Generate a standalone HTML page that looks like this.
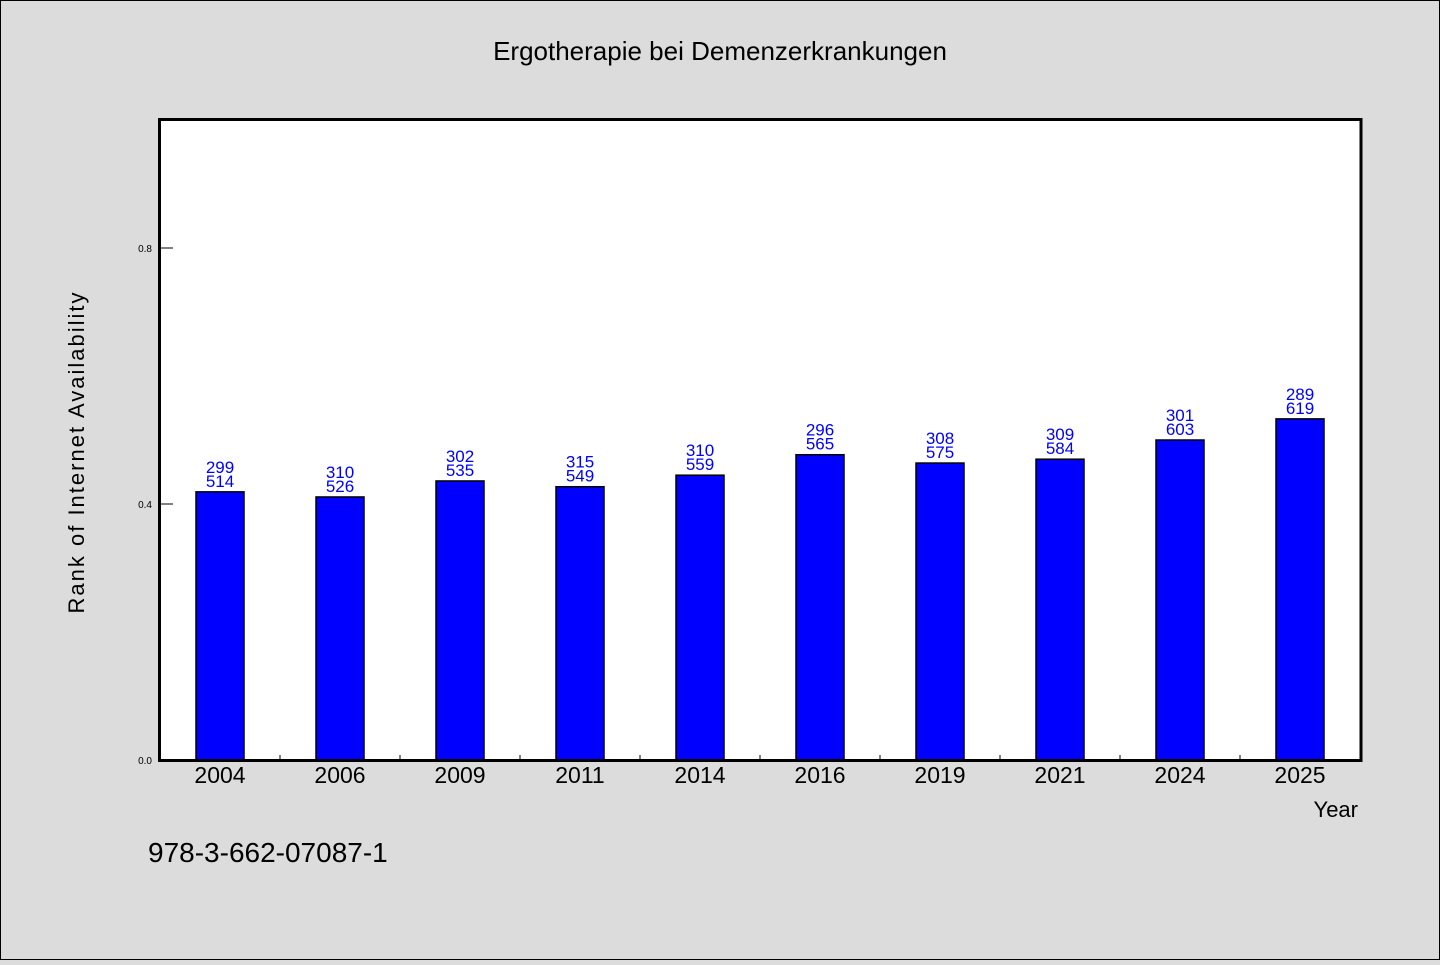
<!DOCTYPE html>
<html><head><meta charset="utf-8"><style>
html,body{margin:0;padding:0}
body{width:1440px;height:960px;background:#dcdcdc;overflow:hidden}
svg text{font-family:"WenQuanYi Zen Hei","Liberation Sans",sans-serif}
</style></head><body>
<svg id="chart" width="1440" height="960" xmlns="http://www.w3.org/2000/svg">
<rect x="0.5" y="0.5" width="1439" height="959" fill="#dcdcdc" stroke="#000" stroke-width="1"/>
<text x="720" y="60" font-size="26" text-anchor="middle" fill="#000">Ergotherapie bei Demenzerkrankungen</text>
<rect x="160" y="120" width="1200" height="640" fill="#fff"/>
<g id="bars"></g>
<g id="axes"></g>
<text transform="translate(84,452) rotate(-90)" font-size="22" text-anchor="middle" letter-spacing="2" fill="#000">Rank of Internet Availability</text>
<text x="1358" y="817" font-size="22" text-anchor="end" fill="#000">Year</text>
<text x="148" y="862" font-size="28" fill="#000">978-3-662-07087-1</text>
</svg>
<script>
const categories=["2004","2006","2009","2011","2014","2016","2019","2021","2024","2025"];
const values=[0.419,0.411,0.436,0.427,0.445,0.477,0.464,0.470,0.500,0.533];
const labelTop=["299","310","302","315","310","296","308","309","301","289"];
const labelBottom=["514","526","535","549","559","565","575","584","603","619"];
const yTicks=[0.0,0.4,0.8];
const yTickLabels=["0.0","0.4","0.8"];
const NS="http://www.w3.org/2000/svg";
const X0=160,W=1200,Y0=760,H=640,YMAX=1.0;
const band=W/categories.length;
function xScale(i){return X0+band*i+band/2;}
function yScale(v){return Y0-v/YMAX*H;}
function mk(tag,attrs,parent,text){const e=document.createElementNS(NS,tag);for(const k in attrs)e.setAttribute(k,attrs[k]);if(text!=null)e.textContent=text;parent.appendChild(e);return e;}
const bars=document.getElementById('bars');
const axes=document.getElementById('axes');
categories.forEach((c,i)=>{
 const cx=xScale(i),top=yScale(values[i]);
 const r=mk('rect',{x:cx-24,y:top,width:48,height:Y0-top,fill:'#0000ff',stroke:'#000','stroke-width':1.5},bars);
 
 
 const t1=mk('text',{x:cx,y:top-19,'font-size':17,'text-anchor':'middle',fill:'#0000ff'},bars,labelTop[i]);
 
 
 const t2=mk('text',{x:cx,y:top-5,'font-size':17,'text-anchor':'middle',fill:'#0000ff'},bars,labelBottom[i]);
 
 
 const xl=mk('text',{x:cx,y:783,'font-size':23,'text-anchor':'middle',fill:'#000'},axes,c);
 
 
 if(i>0){const tk=mk('line',{x1:X0+band*i,x2:X0+band*i,y1:Y0-5,y2:Y0,stroke:'#000','stroke-width':1},axes);
 
 }
});
yTicks.forEach((v,i)=>{
 const y=yScale(v);
 const l=mk('line',{x1:X0,x2:X0+13,y1:y,y2:y,stroke:'#000','stroke-width':1},axes);
 
 
 const t=mk('text',{x:152,y:y+4,'font-size':10,'text-anchor':'end',fill:'#000'},axes,yTickLabels[i]);
 
 
});
const fr=mk('rect',{x:X0-0.5,y:119.5,width:W+1.5,height:H+1,fill:'none',stroke:'#000','stroke-width':3},axes);


</script>
</body></html>
